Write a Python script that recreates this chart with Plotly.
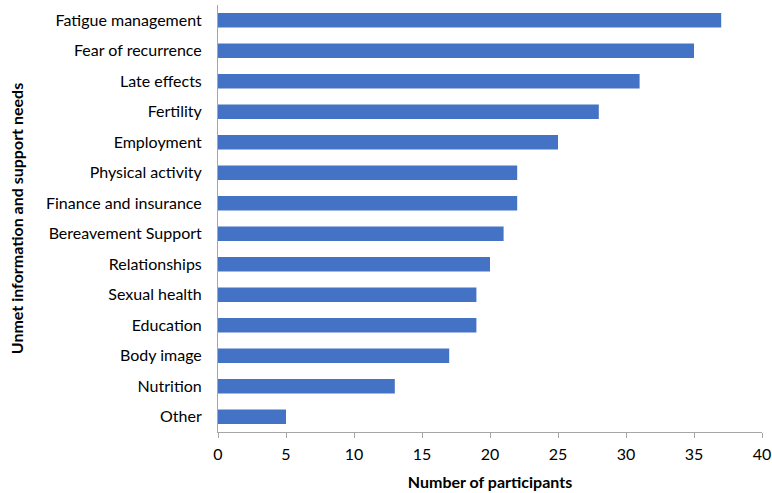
import plotly.graph_objects as go

categories = ["Fatigue management", "Fear of recurrence", "Late effects", "Fertility",
              "Employment", "Physical activity", "Finance and insurance",
              "Bereavement Support", "Relationships", "Sexual health", "Education",
              "Body image", "Nutrition", "Other"]
values = [37, 35, 31, 28, 25, 22, 22, 21, 20, 19, 19, 17, 13, 5]
x_ticks = [0, 5, 10, 15, 20, 25, 30, 35, 40]

font_family = "Lato, Open Sans, sans-serif"

fig = go.Figure(go.Bar(
    x=values, y=categories, orientation="h",
    marker=dict(color="#4472C4", line=dict(width=0)),
))

fig.update_layout(
    width=772, height=493,
    margin=dict(l=218, r=10, t=5, b=61, autoexpand=False),
    paper_bgcolor="white", plot_bgcolor="white",
    bargap=0.53,
    showlegend=False,
    font=dict(family=font_family, size=16, color="#000000"),
)
fig.update_xaxes(
    range=[0, 40], tickvals=x_ticks, ticktext=[str(t) for t in x_ticks],
    showgrid=False, zeroline=False,
    showline=True, linecolor="#A6A6A6", linewidth=1,
    ticks="outside", ticklen=5, tickcolor="#A6A6A6",
    ticklabelstandoff=3,
    tickfont=dict(size=16),
    title=dict(text="<b>Number of participants</b>", font=dict(size=16), standoff=14),
)
fig.update_yaxes(
    autorange="reversed", showgrid=False, zeroline=False,
    showline=True, linecolor="#A6A6A6", linewidth=1,
    ticks="", ticklabelstandoff=12,
    tickfont=dict(size=16),
    title=dict(text="<b>Unmet information and support needs</b>", font=dict(size=16), standoff=18),
)

fig.write_html("out.html", config={"displayModeBar": False},
               post_script="document.body.style.margin='0';")
